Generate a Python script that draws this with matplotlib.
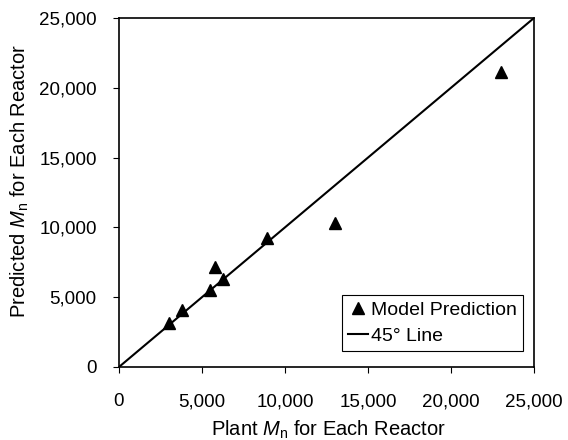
import matplotlib
matplotlib.use("Agg")
import matplotlib.pyplot as plt
from matplotlib.ticker import FuncFormatter

# plant vs predicted Mn for each reactor
plant_mn = [3030, 3810, 5480, 5780, 6290, 8940, 13000, 23000]
pred_mn = [3130, 4080, 5480, 7140, 6270, 9210, 10330, 21150]
line_ends = [0, 25000]
tick_vals = [0, 5000, 10000, 15000, 20000, 25000]

plt.rcParams['font.family'] = ['Liberation Sans', 'DejaVu Sans']
plt.rcParams['mathtext.fontset'] = 'custom'
plt.rcParams['mathtext.it'] = 'Liberation Sans:italic'
plt.rcParams['mathtext.rm'] = 'Liberation Sans'

fig = plt.figure(figsize=(5.68, 4.4), dpi=100)
ax = fig.add_axes([0.2095, 0.166, 0.7305, 0.793])

ax.plot(plant_mn, pred_mn, linestyle='none', marker='^', color='black',
        markersize=8, label='Model Prediction')
ax.plot(line_ends, line_ends, color='black', linewidth=1.5, label='45° Line')

ax.set_xlim(0, 25000)
ax.set_ylim(0, 25000)
ax.set_xticks(tick_vals)
ax.set_yticks(tick_vals)
fmt = FuncFormatter(lambda v, p: f"{int(v):,}")
ax.xaxis.set_major_formatter(fmt)
ax.yaxis.set_major_formatter(fmt)
ax.tick_params(direction='out', length=4.5, width=0.8, labelsize=13.5)
ax.tick_params(axis='x', pad=14.5)
ax.tick_params(axis='y', pad=11.5)
for sp in ax.spines.values():
    sp.set_linewidth(1.2)

ax.set_xlabel('Plant $M_\\mathrm{n}$ for Each Reactor', fontsize=14.5)
ax.set_ylabel('Predicted $M_\\mathrm{n}$ for Each Reactor', fontsize=14.5)
ax.xaxis.set_label_coords(0.505, -0.196)
ax.xaxis.label.set_verticalalignment('baseline')
ax.yaxis.set_label_coords(-0.2248, 0.533)
ax.yaxis.label.set_verticalalignment('baseline')

leg = ax.legend(loc='lower right', bbox_to_anchor=(0.9735, 0.0458), fontsize=14,
                fancybox=False, edgecolor='black', framealpha=1,
                handlelength=1.03, handletextpad=0.15, borderpad=0.3,
                labelspacing=0.45, borderaxespad=0)
leg.get_frame().set_linewidth(0.8)

fig.savefig('out.png', dpi=100)
